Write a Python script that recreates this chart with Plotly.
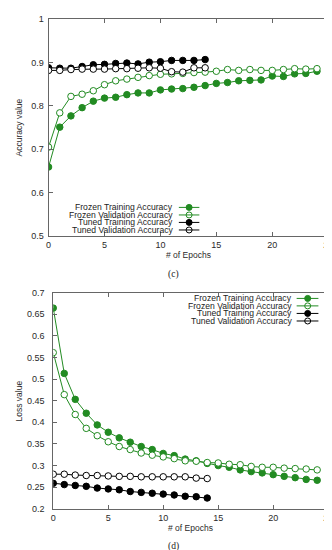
import plotly.graph_objects as go

W, H = 332, 550

epochs_frozen = list(range(25))
epochs_tuned = list(range(15))

# (c) accuracy
acc_frozen_train = [0.659, 0.751, 0.777, 0.796, 0.811, 0.818, 0.820, 0.826, 0.830, 0.830,
                    0.837, 0.839, 0.840, 0.843, 0.847, 0.852, 0.854, 0.858, 0.859, 0.860,
                    0.869, 0.868, 0.874, 0.875, 0.880]
acc_frozen_val = [0.705, 0.784, 0.822, 0.827, 0.835, 0.849, 0.858, 0.862, 0.866, 0.870,
                  0.873, 0.874, 0.875, 0.877, 0.878, 0.880, 0.884, 0.882, 0.884, 0.882,
                  0.882, 0.884, 0.886, 0.885, 0.886]
acc_tuned_train = [0.888, 0.887, 0.887, 0.891, 0.895, 0.896, 0.898, 0.899, 0.897, 0.901,
                   0.902, 0.905, 0.905, 0.905, 0.907]
acc_tuned_val = [0.882, 0.882, 0.884, 0.885, 0.885, 0.885, 0.886, 0.886, 0.887, 0.888,
                 0.887, 0.879, 0.878, 0.888, 0.888]

# (d) loss
loss_frozen_train = [0.664, 0.513, 0.453, 0.421, 0.394, 0.377, 0.364, 0.354, 0.344, 0.337,
                     0.328, 0.323, 0.315, 0.311, 0.305, 0.300, 0.296, 0.290, 0.286, 0.283,
                     0.279, 0.275, 0.272, 0.268, 0.266]
loss_frozen_val = [0.561, 0.464, 0.418, 0.386, 0.369, 0.355, 0.344, 0.337, 0.329, 0.324,
                   0.320, 0.316, 0.311, 0.310, 0.307, 0.306, 0.303, 0.302, 0.298, 0.296,
                   0.296, 0.294, 0.293, 0.292, 0.290]
loss_tuned_train = [0.259, 0.256, 0.254, 0.252, 0.248, 0.246, 0.244, 0.240, 0.238, 0.236,
                    0.234, 0.232, 0.229, 0.228, 0.225]
loss_tuned_val = [0.280, 0.280, 0.278, 0.277, 0.277, 0.276, 0.275, 0.275, 0.274, 0.274,
                  0.274, 0.274, 0.274, 0.271, 0.270]

legend_labels = ["Frozen Training Accuracy", "Frozen Validation Accuracy",
                 "Tuned Training Accuracy", "Tuned Validation Accuracy"]

x_ticks = [0, 5, 10, 15, 20, 25]
acc_ticks = [0.5, 0.6, 0.7, 0.8, 0.9, 1.0]
acc_tick_text = ["0.5", "0.6", "0.7", "0.8", "0.9", "1"]
loss_ticks = [0.2, 0.25, 0.3, 0.35, 0.4, 0.45, 0.5, 0.55, 0.6, 0.65, 0.7]
loss_tick_text = ["0.2", "0.25", "0.3", "0.35", "0.4", "0.45", "0.5", "0.55", "0.6", "0.65", "0.7"]

GREEN = "#228B22"
BLACK = "#000000"
FRAME = "#666666"
TEXT = "#2a2a2a"
FONT = "Liberation Sans, Arial, sans-serif"

def px(x):
    return x / W

def py(y):
    return 1 - y / H

# (color, filled)
styles = [(GREEN, True), (GREEN, False), (BLACK, True), (BLACK, False)]

fig = go.Figure()

def add_series(xs, ys, style, xa, ya, name):
    color, filled = style
    fig.add_trace(go.Scatter(
        x=xs, y=ys, mode="lines+markers", name=name, showlegend=False,
        xaxis=xa, yaxis=ya,
        line=dict(color=color, width=1),
        marker=dict(symbol="circle", size=6.5, color=color if filled else "white",
                    line=dict(color=color, width=1)),
    ))

acc_series = [(epochs_frozen, acc_frozen_train), (epochs_frozen, acc_frozen_val),
              (epochs_tuned, acc_tuned_train), (epochs_tuned, acc_tuned_val)]
loss_series = [(epochs_frozen, loss_frozen_train), (epochs_frozen, loss_frozen_val),
               (epochs_tuned, loss_tuned_train), (epochs_tuned, loss_tuned_val)]

for (xs, ys), st, nm in zip(acc_series, styles, legend_labels):
    add_series(xs, ys, st, "x", "y", nm)
for (xs, ys), st, nm in zip(loss_series, styles, legend_labels):
    add_series(xs, ys, st, "x2", "y2", nm)

axis_common = dict(
    showgrid=False, zeroline=False, showline=True, linecolor=FRAME, linewidth=1,
    mirror="ticks", ticks="inside", ticklen=4, tickcolor=FRAME,
    tickfont=dict(family=FONT, size=9, color=TEXT),
)

# plot areas in pixels
top_box = (38.5, 325, 6.4, 227)
bot_box = (43.3, 325, 284.7, 505)

fig.update_layout(
    width=W, height=H,
    margin=dict(l=0, r=0, t=0, b=0),
    paper_bgcolor="white", plot_bgcolor="white",
    xaxis=dict(domain=[px(top_box[0]), px(top_box[1])], range=[0, 25], tickvals=x_ticks,
               anchor="y", **axis_common),
    yaxis=dict(domain=[py(top_box[3]), py(top_box[2])], range=[0.5, 1.0], tickvals=acc_ticks,
               ticktext=acc_tick_text, anchor="x", ticklabelstandoff=2, **axis_common),
    xaxis2=dict(domain=[px(bot_box[0]), px(bot_box[1])], range=[0, 25], tickvals=x_ticks,
                anchor="y2", **axis_common),
    yaxis2=dict(domain=[py(bot_box[3]), py(bot_box[2])], range=[0.2, 0.7], tickvals=loss_ticks,
                ticktext=loss_tick_text, anchor="x2", ticklabelstandoff=6, **axis_common),
)

annotations = []
shapes = []

def text_ann(x, y, text, size=8.5, xanchor="center", angle=0, family=FONT, color=TEXT):
    annotations.append(dict(x=px(x), y=py(y), xref="paper", yref="paper", text=text,
                            showarrow=False, xanchor=xanchor, yanchor="middle",
                            textangle=angle, borderpad=0,
                            font=dict(family=family, size=size, color=color)))

# axis titles
text_ann(8, (top_box[2] + top_box[3]) / 2, "Accuracy value", angle=-90)
text_ann((top_box[0] + top_box[1]) / 2, 246.7, "# of Epochs")
text_ann(8, (bot_box[2] + bot_box[3]) / 2, "Loss value", angle=-90)
text_ann((bot_box[0] + bot_box[1]) / 2, 525, "# of Epochs")

# captions
text_ann(167, 266, "(c)", size=9.5, family="Liberation Serif, serif", color="#222222")
text_ann(167, 543, "(d)", size=9.5, family="Liberation Serif, serif", color="#222222")

def legend(text_right, line_x0, line_x1, mark_x, rows):
    for lab, (color, filled), yy in zip(legend_labels, styles, rows):
        text_ann(text_right, yy, lab, size=8.6, xanchor="right", color="#222222")
        shapes.append(dict(type="line", xref="paper", yref="paper",
                           x0=px(line_x0), x1=px(line_x1), y0=py(yy), y1=py(yy),
                           line=dict(color=color, width=1)))
        shapes.append(dict(type="circle", xref="paper", yref="paper",
                           xsizemode="pixel", ysizemode="pixel",
                           xanchor=px(mark_x), yanchor=py(yy),
                           x0=-3, x1=3, y0=-3, y1=3,
                           fillcolor=color if filled else "rgba(0,0,0,0)",
                           line=dict(color=color, width=1)))

legend(167, 172, 193, 182.5, [198, 205.7, 213.3, 221])
legend(289, 292.7, 315, 304, [290.7, 298.3, 306, 313.7])

fig.update_layout(annotations=annotations, shapes=shapes)

fig.write_html("out.html")
